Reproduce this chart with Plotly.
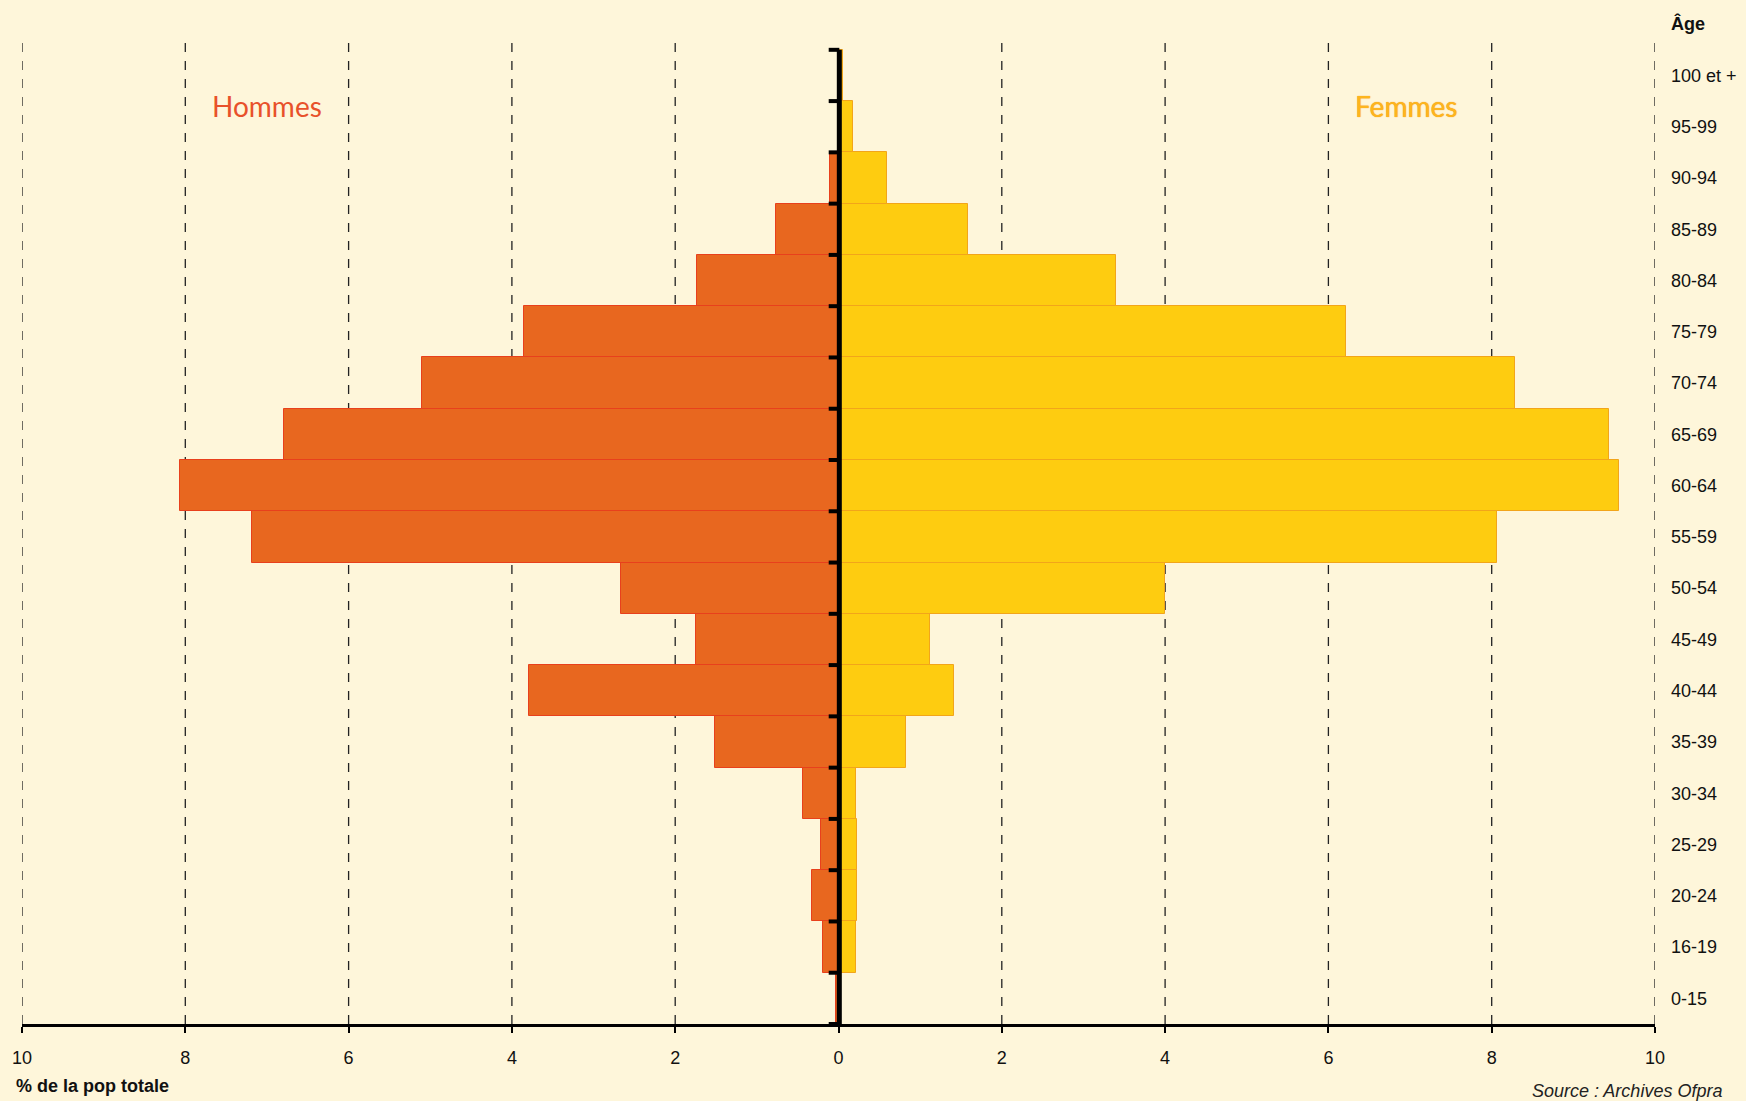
import plotly.graph_objects as go

ages = ["0-15", "16-19", "20-24", "25-29", "30-34", "35-39", "40-44", "45-49",
        "50-54", "55-59", "60-64", "65-69", "70-74", "75-79", "80-84", "85-89",
        "90-94", "95-99", "100 et +"]
hommes = [0.03, 0.19, 0.33, 0.22, 0.44, 1.51, 3.79, 1.75, 2.66, 7.18, 8.06, 6.79,
          5.10, 3.85, 1.73, 0.76, 0.10, 0.0, 0.0]
femmes = [0.0, 0.22, 0.23, 0.23, 0.22, 0.83, 1.41, 1.12, 4.00, 8.06, 9.56, 9.44,
          8.29, 6.21, 3.40, 1.58, 0.59, 0.18, 0.05]
xticks = [-10, -8, -6, -4, -2, 0, 2, 4, 6, 8, 10]

BG = "#FEF6DA"
FONT = "Liberation Sans Narrow, Arial Narrow, Liberation Sans, Arial, sans-serif"

idx = list(range(len(ages)))

fig = go.Figure()
fig.add_trace(go.Bar(
    y=idx, x=[-v for v in hommes], orientation="h", name="Hommes",
    marker=dict(color="#E8671F", line=dict(color="#E8401C", width=1)),
    hoverinfo="skip"))
fig.add_trace(go.Bar(
    y=idx, x=femmes, orientation="h", name="Femmes",
    marker=dict(color="#FECC10", line=dict(color="#F2A51A", width=1)),
    hoverinfo="skip"))

shapes = []
# dashed vertical grid lines
for t in xticks:
    if t == 0:
        continue
    shapes.append(dict(type="line", xref="x", yref="y", x0=t, x1=t,
                       y0=-0.5, y1=18.75,
                       line=dict(color="#222222", width=1.3, dash="dash"),
                       layer="below"))
# central axis
shapes.append(dict(type="line", xref="x", yref="y", x0=0.01, x1=0.01,
                   y0=-0.5, y1=len(ages) - 0.5,
                   line=dict(color="black", width=5)))
for i in range(len(ages) + 1):
    yb = i - 0.5
    shapes.append(dict(type="line", xref="x", yref="y", x0=-0.12, x1=0.01,
                       y0=yb, y1=yb, line=dict(color="black", width=4)))

fig.update_layout(
    width=1746, height=1101,
    paper_bgcolor=BG, plot_bgcolor=BG,
    barmode="relative", bargap=0,
    showlegend=False,
    margin=dict(l=22, r=91, t=37, b=77),
    shapes=shapes,
    font=dict(family=FONT, size=18, color="#111111"),
    xaxis=dict(range=[-10, 10], tickvals=xticks,
               ticktext=[str(abs(t)) for t in xticks],
               showgrid=False, zeroline=False,
               showline=True, linecolor="black", linewidth=2.5,
               ticks="outside", ticklen=6, tickwidth=1.5, tickcolor="black",
               ticklabelstandoff=10, automargin=False,
               tickfont=dict(family=FONT, size=18, color="#111111")),
    yaxis=dict(range=[-0.5, 18.75], tickvals=idx, ticktext=ages,
               side="right", showgrid=False, zeroline=False, showline=False,
               ticks="", ticklabelstandoff=15, automargin=False,
               tickfont=dict(family=FONT, size=18, color="#111111")),
    annotations=[
        dict(text="<b>Âge</b>", xref="paper", yref="paper", x=1.0085, y=1.0135,
             xanchor="left", yanchor="middle", showarrow=False,
             font=dict(family=FONT, size=18, color="#111111")),
        dict(text="Hommes", xref="x", yref="y", x=-7.0, y=17.4,
             showarrow=False, xanchor="center", yanchor="middle",
             font=dict(family="Lato, Open Sans, sans-serif", size=28, color="#E8512A")),
        dict(text="Femmes", xref="x", yref="y", x=6.95, y=17.4,
             showarrow=False, xanchor="center", yanchor="middle",
             font=dict(family="Lato, Open Sans, sans-serif", size=28, color="#FDB51E",
                       shadow="0px 0px 1px #F08A00")),
        dict(text="<b>% de la pop totale</b>", xref="paper", yref="paper",
             x=-0.005, y=-0.0625, xanchor="left", yanchor="middle", showarrow=False,
             font=dict(family=FONT, size=18, color="#111111")),
        dict(text="<i>Source : Archives Ofpra</i>", xref="paper", yref="paper",
             x=1.0425, y=-0.0675, xanchor="right", yanchor="middle", showarrow=False,
             font=dict(family=FONT, size=18, color="#222222")),
    ],
)

fig.write_html("out.html", config={"displayModeBar": False},
               post_script="document.body.style.margin='0';document.body.style.overflow='hidden';")
